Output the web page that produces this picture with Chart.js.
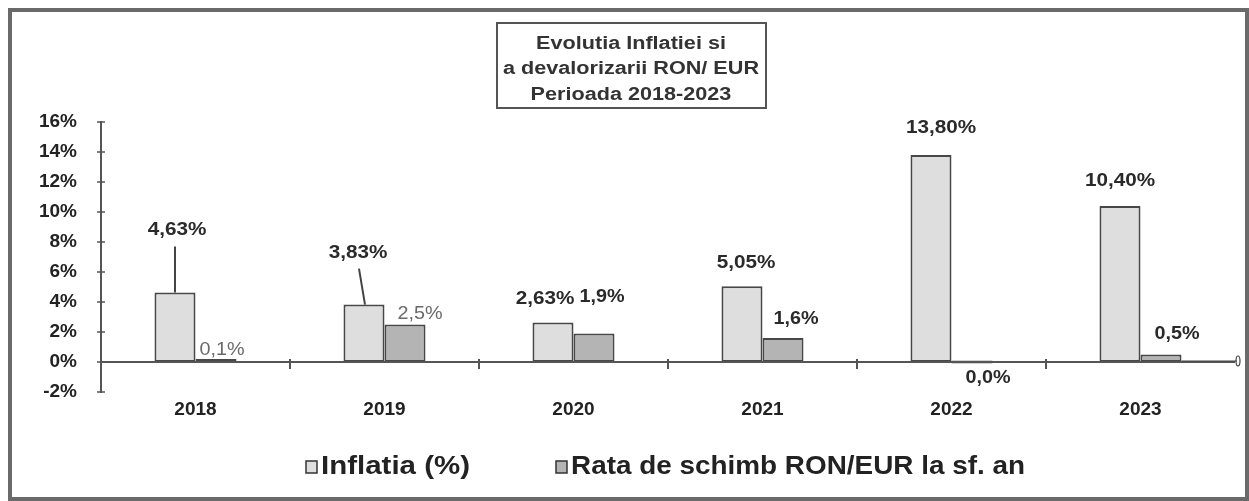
<!DOCTYPE html>
<html>
<head>
<meta charset="utf-8">
<script src="https://cdn.jsdelivr.net/npm/chart.js@4/dist/chart.umd.min.js"></script>
<style>
    body { margin: 0; background: #fff; }
    #wrap { width: 1249px; height: 501px; position: relative; }
</style>
</head>
<body>
<div id="wrap"><canvas id="chart"></canvas></div>
<script>
// --- Data ---
const years = ['2018', '2019', '2020', '2021', '2022', '2023'];
const inflatia = [4.63, 3.83, 2.63, 5.05, 13.80, 10.40];
const rataSchimb = [0.1, 2.5, 1.9, 1.6, 0.0, 0.5];
const inflatiaLabels = ['4,63%', '3,83%', '2,63%', '5,05%', '13,80%', '10,40%'];
const rataLabels = ['0,1%', '2,5%', '1,9%', '1,6%', '0,0%', '0,5%'];
const titleLines = ['Evolutia Inflatiei si', 'a devalorizarii RON/ EUR', 'Perioada 2018-2023'];
const seriesNames = ['Inflatia (%)', 'Rata de schimb RON/EUR la sf. an'];

// label offsets relative to bar top centre (layout only)
const inflOffsets = [[2, -63], [-6, -52], [-8, -24], [4, -23], [10, -27], [0, -25]];
const rataOffsets = [[6, -9], [15, -10], [8, -36], [13, -19], [16, 15], [16, -20]];

const FONT = '"Liberation Sans", Arial, sans-serif';
const fillInfl = '#dedede';
const fillRata = '#b4b4b4';
const edge = '#474747';

// draw text stretched horizontally (the scan's type is wide)
function wideText(ctx, text, x, y, sx) {
    ctx.save();
    ctx.translate(x, y);
    ctx.scale(sx, 1);
    ctx.fillText(text, 0, 0);
    ctx.restore();
}

const decorPlugin = {
    id: 'decor',
    beforeDraw(chart) {
        const ctx = chart.ctx;
        ctx.save();
        ctx.fillStyle = '#fff';
        ctx.fillRect(0, 0, chart.width, chart.height);
        ctx.restore();
    },
    afterDatasetsDraw(chart) {
        const ctx = chart.ctx;
        const area = chart.chartArea;
        const x = chart.scales.x;
        const y = chart.scales.y;
        const y0 = y.getPixelForValue(0);
        ctx.save();

        // zero line + category separator ticks
        ctx.strokeStyle = '#555';
        ctx.lineWidth = 2;
        ctx.beginPath();
        ctx.moveTo(area.left, y0);
        ctx.lineTo(area.right, y0);
        ctx.stroke();
        for (let i = 0; i < years.length - 1; i++) {
            const xm = (x.getPixelForTick(i) + x.getPixelForTick(i + 1)) / 2;
            ctx.beginPath();
            ctx.moveTo(xm, y0 - 3);
            ctx.lineTo(xm, y0 + 7);
            ctx.stroke();
        }
        // y tick crosses
        ctx.lineWidth = 1.5;
        y.ticks.forEach(t => {
            const py = y.getPixelForValue(t.value);
            ctx.beginPath();
            ctx.moveTo(area.left - 4, py);
            ctx.lineTo(area.left + 4, py);
            ctx.stroke();
        });

        // data labels
        const m0 = chart.getDatasetMeta(0).data;
        const m1 = chart.getDatasetMeta(1).data;
        ctx.textAlign = 'center';
        ctx.textBaseline = 'middle';
        m0.forEach((bar, i) => {
            ctx.font = 'bold 18px ' + FONT;
            ctx.fillStyle = '#2a2a2a';
            wideText(ctx, inflatiaLabels[i], bar.x + inflOffsets[i][0], bar.y + inflOffsets[i][1], 1.15);
        });
        m1.forEach((bar, i) => {
            const light = i < 2;
            ctx.font = (light ? '' : 'bold ') + '18px ' + FONT;
            ctx.fillStyle = light ? '#6a6a6a' : '#2a2a2a';
            wideText(ctx, rataLabels[i], bar.x + rataOffsets[i][0], bar.y + rataOffsets[i][1], 1.1);
        });

        // leader lines (2018, 2019) and stray line at 2023
        ctx.strokeStyle = '#444';
        ctx.lineWidth = 2;
        ctx.beginPath();
        ctx.moveTo(m0[0].x, m0[0].y);
        ctx.lineTo(m0[0].x, m0[0].y - 46);
        ctx.moveTo(m0[1].x + 1, m0[1].y);
        ctx.lineTo(m0[1].x - 5, m0[1].y - 36);
        ctx.stroke();
        const b = m1[5];
        ctx.lineWidth = 1.2;
        ctx.beginPath();
        ctx.moveTo(b.x + b.width / 2, y0 - 1);
        ctx.lineTo(area.right + 2, y0 - 1);
        ctx.stroke();
        ctx.beginPath();
        ctx.ellipse(area.right + 3, y0 - 1, 2, 5, 0, 0, Math.PI * 2);
        ctx.stroke();
        ctx.restore();
    },
    afterDraw(chart) {
        const ctx = chart.ctx;
        ctx.save();
        // outer frame
        ctx.strokeStyle = '#6a6a6a';
        ctx.lineWidth = 4;
        ctx.strokeRect(10, 10, 1237, 489);

        // title box
        ctx.strokeStyle = '#555';
        ctx.lineWidth = 2;
        ctx.strokeRect(497, 23, 269, 85);
        ctx.fillStyle = '#333';
        ctx.font = 'bold 18px ' + FONT;
        ctx.textAlign = 'center';
        ctx.textBaseline = 'middle';
        const tw = ctx.measureText(titleLines[1]).width;
        titleLines.forEach((line, i) => wideText(ctx, line, 631, 44 + i * 25.5, 256 / tw));

        // legend
        const items = [
            { text: seriesNames[0], fill: fillInfl, box: 306, tx: 321, tw: 149 },
            { text: seriesNames[1], fill: fillRata, box: 556, tx: 571, tw: 454 }
        ];
        ctx.textAlign = 'left';
        ctx.font = 'bold 25px ' + FONT;
        items.forEach(it => {
            ctx.fillStyle = it.fill;
            ctx.fillRect(it.box, 461, 11, 12);
            ctx.strokeStyle = '#333';
            ctx.lineWidth = 1.5;
            ctx.strokeRect(it.box, 461, 11, 12);
            const w = ctx.measureText(it.text).width;
            ctx.fillStyle = '#222';
            wideText(ctx, it.text, it.tx, 467, it.tw / w);
        });
        ctx.restore();
    }
};

new Chart(document.getElementById('chart'), {
    type: 'bar',
    data: {
        labels: years,
        datasets: [
            {
                label: seriesNames[0],
                data: inflatia,
                backgroundColor: fillInfl,
                borderColor: edge,
                borderWidth: 2
            },
            {
                label: seriesNames[1],
                data: rataSchimb,
                backgroundColor: fillRata,
                borderColor: edge,
                borderWidth: 2,
                minBarLength: 3
            }
        ]
    },
    options: {
        responsive: true,
        maintainAspectRatio: false,
        animation: false,
        layout: { padding: { top: 122, right: 14, left: 0, bottom: 0 } },
        datasets: {
            bar: { categoryPercentage: 0.434, barPercentage: 1.0, borderSkipped: false }
        },
        plugins: {
            legend: { display: false },
            tooltip: { enabled: false }
        },
        scales: {
            x: {
                grid: { display: false },
                border: { display: false },
                ticks: {
                    color: '#222',
                    font: { family: FONT, size: 19, weight: 'bold' },
                    padding: -2
                },
                afterFit(scale) { scale.height = 109; }
            },
            y: {
                min: -2,
                max: 16,
                grid: { display: false },
                border: { display: true, color: '#555', width: 2 },
                ticks: {
                    stepSize: 2,
                    color: '#222',
                    padding: 16,
                    font: { family: FONT, size: 19, weight: 'bold' },
                    callback: v => v + '%'
                },
                afterFit(scale) { scale.width = 101; }
            }
        }
    },
    plugins: [decorPlugin]
});
</script>
</body>
</html>
